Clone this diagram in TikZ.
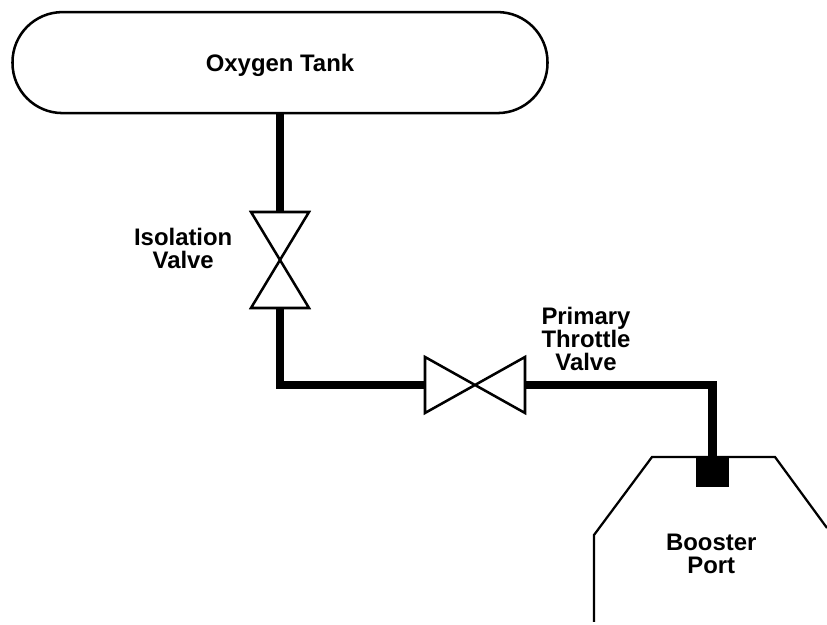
\documentclass[tikz,border=0pt]{standalone}
\usepackage{fontspec}
\setmainfont{Liberation Sans}
\begin{document}
\begin{tikzpicture}[line join=miter, outline/.style={draw, line width=1.8pt}, pipe/.style={line width=6.2pt}, valve/.style={inner sep=0pt, outer sep=0pt}, tag/.style={align=center, inner sep=0pt, font=\fontsize{17}{16.2}\selectfont\bfseries}]
	\useasboundingbox (0,0) rectangle (20.675,15.625);
	\node[outline, rounded corners=1.25cm, minimum width=13.375cm, minimum height=2.525cm, tag, text depth=0pt] (tank) at (7, 14.06) {Oxygen Tank};
	\node[valve, minimum width=1.45cm, minimum height=2.4cm] (isolation) at (7, 9.125) {};
	\node[valve, minimum width=2.5cm, minimum height=1.4cm] (primary) at (11.875, 6) {};
	\draw[line width=1.6pt] (14.85, 0.075) -- (14.85, 2.25) -- (16.3, 4.2) -- (19.375, 4.2) -- (20.675, 2.425);
	\node[fill=black, inner sep=0pt, minimum width=0.825cm, minimum height=0.775cm] (port) at (17.81, 3.84) {};
	\draw[outline] (isolation.north west) -- (isolation.south east) -- (isolation.south west) -- (isolation.north east) -- cycle;
	\draw[outline] (primary.north west) -- (primary.south east) -- (primary.north east) -- (primary.south west) -- cycle;
	\draw[pipe] (tank.south) -- (isolation.north);
	\draw[pipe] (isolation.south) |- (primary.west);
	\draw[pipe] (primary.east) -| (port.north);
	\node[tag] (isolationtag) at (4.58, 9.41) {Isolation\\Valve};
	\node[tag] (primarytag) at (14.65, 7.155) {Primary\\Throttle\\Valve};
	\node[tag] (porttag) at (17.78, 1.775) {Booster\\Port};
\end{tikzpicture}
\end{document}
